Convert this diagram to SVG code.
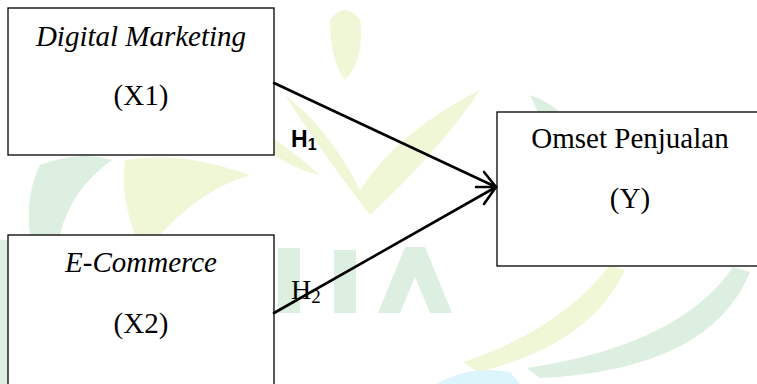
<svg xmlns="http://www.w3.org/2000/svg" width="757" height="384" viewBox="0 0 757 384">
<style>
.box{fill:#ffffff;stroke:#000000;stroke-width:1.3}
.serif{font-family:"Liberation Serif","Times New Roman",serif;font-size:29px;fill:#000;text-anchor:middle}
.it{font-style:italic}
.conn{stroke:#000;stroke-width:2.6;fill:none;stroke-linecap:round}
.wy{fill:#f0f7d6}
.wg{fill:#ddefe0}
.wc{fill:#dcf5fc}
</style>
<rect width="757" height="384" fill="#ffffff"/>
<g id="watermark">
  <path class="wy" d="M285,95 Q330,130 360,190 Q400,130 480,90 Q440,150 370,215 Q320,150 285,95 Z"/>
  <path class="wy" d="M330,20 Q345,0 360,20 Q365,60 345,80 Q330,60 330,20 Z"/>
  <path class="wy" d="M230,110 Q280,140 320,175 Q270,165 230,110 Z"/>
  <path class="wg" d="M530,95 Q575,110 600,170 Q560,165 530,95 Z"/>
  <path class="wg" d="M40,165 Q80,150 112,160 Q70,190 60,235 L30,235 Q25,195 40,165 Z"/>
  <path class="wy" d="M125,160 Q180,150 250,175 Q200,190 160,235 L135,235 Q120,195 125,160 Z"/>
  <path class="wg" d="M0,240 L8,240 L8,384 L0,384 Z"/>
  <path class="wg" d="M278,248 L300,248 L300,313 L278,313 Z"/>
  <path class="wg" d="M334,250 L356,250 L356,313 L334,313 Z"/>
  <path class="wg" d="M378,313 L405,247 L425,247 L452,313 L430,313 L415,277 L400,313 Z"/>
  <path class="wy" d="M463,362 Q560,330 610,265 L625,270 Q590,345 478,372 Z"/>
  <path class="wg" d="M527,368 Q680,345 733,267 L750,272 Q710,370 540,378 Z"/>
  <path class="wc" d="M437,384 Q470,365 510,372 L520,384 Z"/>
</g>
<g id="node-x1">
  <rect class="box" x="8" y="8" width="266" height="147"/>
  <text class="serif it" x="141" y="46">Digital Marketing</text>
  <text class="serif" x="141" y="105">(X1)</text>
</g>
<g id="node-x2">
  <rect class="box" x="8" y="235" width="266" height="160"/>
  <text class="serif it" x="141" y="272">E-Commerce</text>
  <text class="serif" x="141" y="333">(X2)</text>
</g>
<g id="node-y">
  <rect class="box" x="497" y="112" width="270" height="154"/>
  <text class="serif" x="630" y="148">Omset Penjualan</text>
  <text class="serif" x="630" y="208">(Y)</text>
</g>
<g id="connectors">
  <line class="conn" x1="274" y1="83" x2="496" y2="187"/>
  <line class="conn" x1="274" y1="313" x2="496" y2="187"/>
  <path class="conn" d="M484,172 L496,187 L484,204 M476,187 L496,187"/>
  <text x="291" y="147" font-family="'Liberation Sans',Arial,sans-serif" font-weight="bold" font-size="23" fill="#000">H<tspan font-size="16" dy="3">1</tspan></text>
  <text x="291" y="299" font-family="'Liberation Serif','Times New Roman',serif" font-size="28" fill="#000">H<tspan font-size="19" dy="4">2</tspan></text>
</g>
</svg>
